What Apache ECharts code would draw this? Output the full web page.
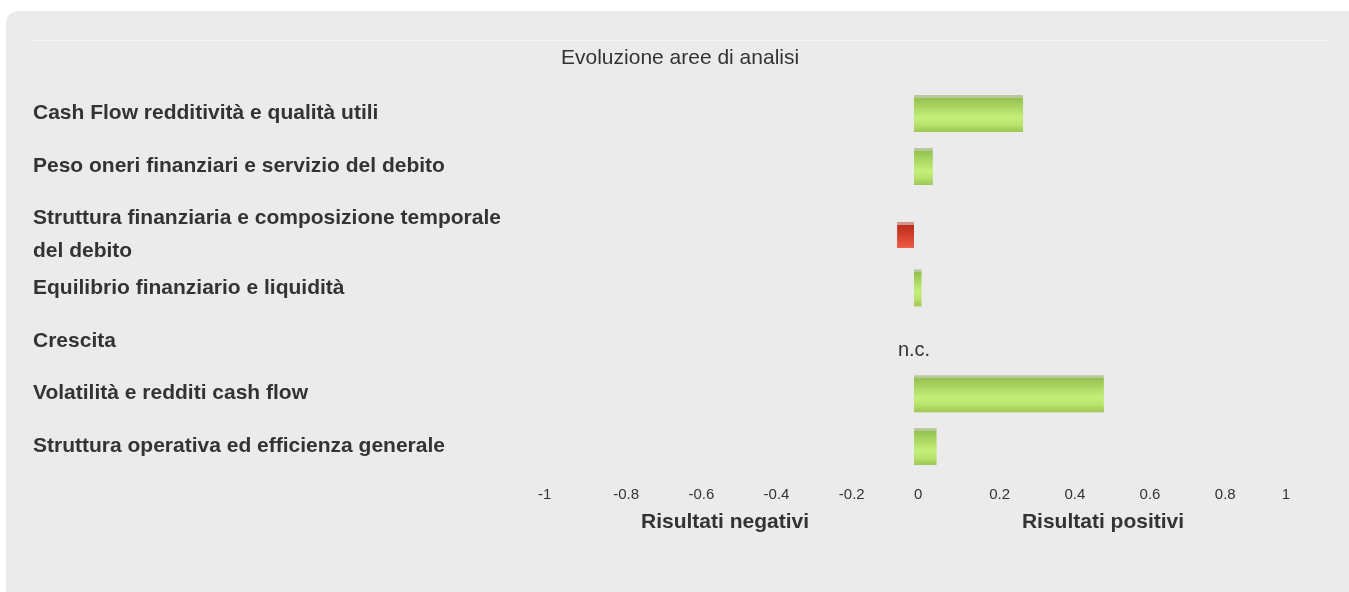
<!DOCTYPE html>
<html>
<head>
<meta charset="utf-8">
<script src="https://cdn.jsdelivr.net/npm/echarts@6/dist/echarts.min.js"></script>
<style>
  html, body { margin: 0; padding: 0; background: #fff; }
  #chart { width: 1349px; height: 592px; }
</style>
</head>
<body>
<div id="chart"></div>
<script>
// aree di analisi
var aree = [
  'Cash Flow redditività e qualità utili',
  'Peso oneri finanziari e servizio del debito',
  'Struttura finanziaria e composizione temporale\ndel debito',
  'Equilibrio finanziario e liquidità',
  'Crescita',
  'Volatilità e redditi cash flow',
  'Struttura operativa ed efficienza generale'
];
// valori (null = n.c.)
var valori = [0.29, 0.05, -0.045, 0.02, null, 0.505, 0.06];
var assiNomi = ['Risultati negativi', 'Risultati positivi'];
var FONT = 'Liberation Sans';

var verde = {
  type: 'linear', x: 0, y: 0, x2: 0, y2: 1,
  colorStops: [
    {offset: 0, color: '#b9c99b'}, {offset: 0.08, color: '#b9c99b'},
    {offset: 0.08, color: '#95c24f'}, {offset: 0.62, color: '#c4f07a'},
    {offset: 0.82, color: '#b6e16a'}, {offset: 1, color: '#9cc653'}
  ]
};
var rosso = {
  type: 'linear', x: 0, y: 0, x2: 0, y2: 1,
  colorStops: [
    {offset: 0, color: '#d0978d'}, {offset: 0.11, color: '#d0978d'},
    {offset: 0.11, color: '#bb2c1c'}, {offset: 1, color: '#f05a43'}
  ]
};

function positivi(vals) {
  return vals.map(function (v) {
    if (v === null) {
      return {value: 0, label: {show: true, formatter: 'n.c.', position: 'inside', offset: [0, 10],
        color: '#333', fontSize: 20, fontFamily: FONT}};
    }
    return v >= 0 ? v : '-';
  });
}
function negativi(vals) {
  return vals.map(function (v) { return (v !== null && v < 0) ? v : '-'; });
}

// prime due righe in una griglia, le altre nella seconda (riga a due linee)
var aree1 = aree.slice(0, 2), aree2 = aree.slice(2);
var valori1 = valori.slice(0, 2), valori2 = valori.slice(2);

var yLabel = {interval: 0, align: 'left', margin: 505, color: '#333', fontSize: 21, fontWeight: 'bold',
  fontFamily: FONT, lineHeight: 33, padding: [0, 0, 12, 0]};
var xBase = {type: 'value', min: -1, max: 1, interval: 0.2,
  axisLine: {show: false}, axisTick: {show: false}, splitLine: {show: false}};

var chart = echarts.init(document.getElementById('chart'));
chart.setOption({
  animation: false,
  textStyle: {fontFamily: FONT},
  graphic: [
    {type: 'rect', z: -10, shape: {x: 6, y: 11, width: 1400, height: 640, r: 12}, style: {fill: '#ebebeb'}},
    {type: 'line', z: -9, shape: {x1: 32, y1: 40.5, x2: 1330, y2: 40.5}, style: {stroke: '#f7f7f7', lineWidth: 1}},
    {type: 'text', x: 725, y: 522, style: {text: assiNomi[0], align: 'center', verticalAlign: 'middle',
      font: 'bold 21px "Liberation Sans"', fill: '#333'}},
    {type: 'text', x: 1103, y: 522, style: {text: assiNomi[1], align: 'center', verticalAlign: 'middle',
      font: 'bold 21px "Liberation Sans"', fill: '#333'}}
  ],
  title: {
    text: 'Evoluzione aree di analisi',
    left: 561, top: 48, padding: 0,
    textStyle: {fontSize: 21, fontWeight: 'normal', color: '#333', fontFamily: FONT}
  },
  grid: [
    {left: 538, width: 752, top: 87, height: 106},
    {left: 538, width: 752, top: 208.5, height: 264.5}
  ],
  xAxis: [
    Object.assign({gridIndex: 0, axisLabel: {show: false}}, xBase),
    Object.assign({gridIndex: 1, axisLabel: {color: '#333', fontSize: 15, margin: 14, align: 'left',
      alignMaxLabel: 'right', fontFamily: FONT}}, xBase)
  ],
  yAxis: [
    {type: 'category', gridIndex: 0, inverse: true, data: aree1,
      axisLine: {show: false}, axisTick: {show: false}, axisLabel: yLabel},
    {type: 'category', gridIndex: 1, inverse: true, data: aree2,
      axisLine: {show: false}, axisTick: {show: false}, axisLabel: yLabel},
    {type: 'category', gridIndex: 1, inverse: true, data: aree2, show: false}
  ],
  series: [
    {type: 'bar', xAxisIndex: 0, yAxisIndex: 0, data: positivi(valori1), barWidth: 37, itemStyle: {color: verde}},
    {type: 'bar', xAxisIndex: 1, yAxisIndex: 1, data: positivi(valori2), barWidth: 37, itemStyle: {color: verde}},
    {type: 'bar', xAxisIndex: 1, yAxisIndex: 2, data: negativi(valori2), barWidth: 26, itemStyle: {color: rosso}}
  ]
});
</script>
</body>
</html>
